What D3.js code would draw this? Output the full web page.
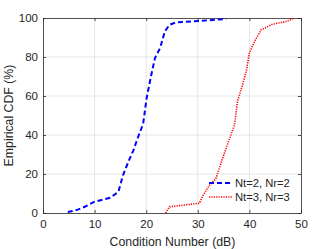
<!DOCTYPE html>
<html>
<head>
<meta charset="utf-8">
<script src="https://cdn.jsdelivr.net/npm/d3@7"></script>
<style>
  body { margin: 0; background: #fff; }
  text { font-family: "Liberation Sans", Arial, sans-serif; }
</style>
</head>
<body>
<div class="chart"></div>
<script>
// data (condition number dB, CDF %)
const nt2X = [4.8, 6.5, 8.1, 10, 13, 14.6, 15.5, 16.5, 17.5, 18.4, 19.4, 20.1, 21, 21.7, 22.7, 23.6, 24.5, 25.8, 30.3, 35.5];
const nt2Y = [0.5, 1.5, 3.2, 5.8, 7.8, 10.8, 19.3, 26, 32, 38.8, 45.6, 59.2, 71, 79.5, 84.6, 93, 96.5, 97.8, 98.5, 99.5];
const nt3X = [23.8, 24.5, 30.3, 31, 32.2, 33.5, 34.8, 35.8, 37.1, 37.7, 38.7, 39.4, 40, 41, 42.3, 44.5, 47.1, 48.6];
const nt3Y = [0, 3.2, 5, 9, 14, 17.6, 28, 35.5, 45, 57.5, 66, 72.8, 82, 88, 94, 96.8, 98.2, 99.8];
const seriesNames = ["Nt=2, Nr=2", "Nt=3, Nr=3"];
const xTicks = [0, 10, 20, 30, 40, 50];
const yTicks = [0, 20, 40, 60, 80, 100];

const W = 332, H = 249;
const margin = {top: 18, right: 31, bottom: 36, left: 43};
const width = W - margin.left - margin.right,
      height = H - margin.top - margin.bottom;

const svg = d3.select(".chart").append("svg")
    .attr("width", W)
    .attr("height", H);

const g = svg.append("g")
    .attr("transform", "translate(" + margin.left + "," + margin.top + ")");

const x = d3.scaleLinear().domain([0, 50]).range([0, width]);
const y = d3.scaleLinear().domain([0, 100]).range([height, 0]);

// grid
g.append("g").selectAll("line")
    .data(xTicks.slice(1, -1))
    .join("line")
    .attr("x1", d => x(d)).attr("x2", d => x(d))
    .attr("y1", 0).attr("y2", height)
    .attr("stroke", "#e6e6e6");
g.append("g").selectAll("line")
    .data(yTicks.slice(1, -1))
    .join("line")
    .attr("y1", d => y(d)).attr("y2", d => y(d))
    .attr("x1", 0).attr("x2", width)
    .attr("stroke", "#e6e6e6");

// axes
const xAxis = g.append("g")
    .attr("transform", "translate(0," + height + ")")
    .call(d3.axisBottom(x).tickValues(xTicks).tickSizeInner(-3).tickSizeOuter(0).tickPadding(7));
const yAxis = g.append("g")
    .call(d3.axisLeft(y).tickValues(yTicks).tickSizeInner(-3).tickSizeOuter(0).tickPadding(5));
const xAxisTop = g.append("g")
    .call(d3.axisTop(x).tickValues(xTicks).tickSizeInner(-3).tickSizeOuter(0).tickFormat(""));
const yAxisRight = g.append("g")
    .attr("transform", "translate(" + width + ",0)")
    .call(d3.axisRight(y).tickValues(yTicks).tickSizeInner(-3).tickSizeOuter(0).tickFormat(""));

[xAxis, yAxis, xAxisTop, yAxisRight].forEach(a => {
    a.select(".domain").attr("stroke", "#262626").attr("stroke-width", 0.8);
    a.selectAll(".tick line").attr("stroke", "#262626").attr("stroke-width", 0.8);
    a.selectAll(".tick text").attr("fill", "#262626").style("font-size", "11.5px");
});

// lines
const line = d3.line().x(d => x(d[0])).y(d => y(d[1]));

g.append("path")
    .datum(d3.zip(nt2X, nt2Y))
    .attr("d", line)
    .attr("fill", "none")
    .attr("stroke", "#0000ff")
    .attr("stroke-width", 2)
    .attr("stroke-dasharray", "5,3");

g.append("path")
    .datum(d3.zip(nt3X, nt3Y))
    .attr("d", line)
    .attr("fill", "none")
    .attr("stroke", "#ff0000")
    .attr("stroke-width", 1.6)
    .attr("stroke-dasharray", "1.2,1.2");

// legend
const legend = g.append("g").attr("transform", "translate(166,165)");
const styles = [
    {color: "#0000ff", dash: "5,3", w: 2},
    {color: "#ff0000", dash: "1.2,1.2", w: 1.6}
];
seriesNames.forEach((name, i) => {
    const row = legend.append("g").attr("transform", "translate(0," + (i * 14) + ")");
    row.append("line")
        .attr("x1", 0).attr("x2", 24)
        .attr("stroke", styles[i].color)
        .attr("stroke-width", styles[i].w)
        .attr("stroke-dasharray", styles[i].dash);
    row.append("text")
        .attr("x", 26).attr("y", 4)
        .attr("fill", "#262626")
        .style("font-size", "11.2px")
        .text(name);
});

// axis labels
svg.append("text")
    .attr("x", margin.left + width / 2 + 0.5)
    .attr("y", 246)
    .attr("text-anchor", "middle")
    .attr("fill", "#262626")
    .style("font-size", "12.3px")
    .text("Condition Number (dB)");

svg.append("text")
    .attr("transform", "translate(13," + (margin.top + height / 2) + ") rotate(-90)")
    .attr("text-anchor", "middle")
    .attr("fill", "#262626")
    .style("font-size", "12.3px")
    .text("Empirical CDF (%)");
</script>
</body>
</html>
